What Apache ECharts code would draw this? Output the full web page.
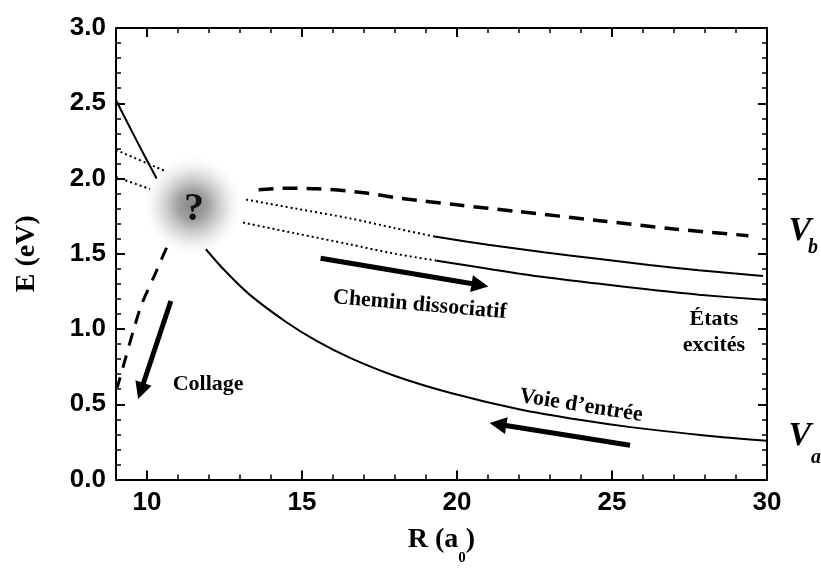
<!DOCTYPE html>
<html><head><meta charset="utf-8">
<script src="https://cdn.jsdelivr.net/npm/echarts@6/dist/echarts.min.js"></script>
<style>html,body{margin:0;padding:0;background:#fff}#c{width:821px;height:571px}</style>
</head><body><div id="c"></div>
<script>
// ---- tick labels ----
const xTickLabels = [10, 15, 20, 25, 30];
const yTickLabels = [0, 0.5, 1.0, 1.5, 2.0, 2.5, 3.0];

// ---- curves [R (a0), E (eV)] ----
const steepSolid = [[9.0, 2.52], [9.67, 2.25], [10.31, 2.0]];
const leftDottedUpper = [[9.0, 2.19], [10.58, 2.05]];
const leftDottedLower = [[9.0, 2.01], [10.1, 1.93]];
const collageDashed = [[10.63, 1.54], [10.25, 1.36], [9.84, 1.17], [9.56, 0.99], [9.3, 0.80], [9.04, 0.61]];
const vbDashed = [[13.6, 1.925], [14.5, 1.935], [15.5, 1.932], [17, 1.905], [18.2, 1.868], [20, 1.825], [22, 1.78], [24.6, 1.72], [27, 1.665], [29.4, 1.62]];
const upperDotted = [[13.2, 1.86], [14.8, 1.80], [16.55, 1.735], [18, 1.67], [19.23, 1.616]];
const upperSolid = [[19.23, 1.616], [21, 1.56], [22.8, 1.51], [24.6, 1.465], [26.2, 1.425], [27.8, 1.39], [29.87, 1.352]];
const lowerDotted = [[13.1, 1.707], [14.8, 1.635], [16.55, 1.562], [18, 1.50], [19.35, 1.454]];
const lowerSolid = [[19.35, 1.454], [21, 1.40], [22.8, 1.345], [24.6, 1.30], [26.2, 1.262], [27.8, 1.228], [30, 1.192]];
const vaSolid = [[11.9, 1.53], [12.5, 1.39], [13.3, 1.23], [14.5, 1.045], [15.5, 0.917], [16.55, 0.808], [18, 0.688], [19.8, 0.575], [22, 0.467], [24, 0.395], [25.6, 0.348], [28, 0.293], [30, 0.257]];

// ---- arrows [start, end] ----
const arrowCollage = [[10.77, 1.186], [9.80, 0.588]];
const arrowChemin = [[15.6, 1.47], [20.74, 1.292]];
const arrowVoie = [[25.58, 0.227], [21.32, 0.367]];

// ---- blob center ----
const blobCenter = [11.48, 1.82];

const SERIF = "'Liberation Serif','Times New Roman',serif";
const SANS = "'Liberation Sans',Arial,sans-serif";
const BLACK = '#000';

function curve(data, type, width) {
  return { type: 'line', data: data, symbol: 'none', showSymbol: false, smooth: 0.3,
    silent: true, animation: false, xAxisIndex: 0, yAxisIndex: 0,
    lineStyle: { color: BLACK, width: width, type: type } };
}
function arrow(coords) {
  return { type: 'lines', coordinateSystem: 'cartesian2d', xAxisIndex: 0, yAxisIndex: 0,
    data: [{ coords: coords }], symbol: ['none', 'triangle'], symbolSize: 17,
    silent: true, animation: false, z: 5,
    lineStyle: { color: BLACK, width: 5, opacity: 1, curveness: 0 } };
}
function textMark(text, pos, o) {
  o = o || {};
  return { type: 'scatter', data: [pos], symbolSize: 1, clip: false, silent: true, animation: false,
    xAxisIndex: 0, yAxisIndex: 0, z: 10,
    itemStyle: { color: 'rgba(0,0,0,0)', opacity: 1 },
    label: { show: true, position: 'inside', formatter: text, rotate: o.rotate || 0, opacity: 1,
      fontSize: o.size || 22, fontFamily: SERIF, fontWeight: 'bold', fontStyle: o.italic ? 'italic' : 'normal',
      color: o.color || BLACK, lineHeight: o.lineHeight || undefined, align: 'center',
      textBorderWidth: 0 } };
}

const axisLineStyle = { color: BLACK, width: 2 };
function xAx(pos, major, showLine) {
  const a = { type: 'value', min: 9, max: 30, position: pos,
    axisLine: { show: showLine, onZero: false, lineStyle: axisLineStyle },
    axisTick: { show: true, inside: true, length: major ? 9 : 5, lineStyle: { color: BLACK, width: major ? 2 : 1.5 } },
    axisLabel: { show: false }, splitLine: { show: false } };
  if (major) a.axisTick.customValues = xTickLabels; else a.interval = 1;
  return a;
}
function yAx(pos, major, showLine) {
  return { type: 'value', min: 0, max: 3, interval: major ? 0.5 : 0.1, position: pos,
    axisLine: { show: showLine, onZero: false, lineStyle: axisLineStyle },
    axisTick: { show: true, inside: true, length: major ? 9 : 5, lineStyle: { color: BLACK, width: major ? 2 : 1.5 } },
    axisLabel: { show: false }, splitLine: { show: false } };
}

const xMain = xAx('bottom', false, true);
xMain.axisLabel = { show: true, customValues: xTickLabels, margin: 10, fontSize: 26, fontWeight: 'bold', fontFamily: SANS, color: BLACK };
xMain.name = '{a|R (a}{s|0}{a|)}';
xMain.nameLocation = 'middle';
xMain.nameGap = 46;
xMain.nameTextStyle = { rich: {
  a: { fontSize: 28, fontWeight: 'bold', fontFamily: SERIF, color: BLACK, lineHeight: 28, verticalAlign: 'top' },
  s: { fontSize: 15, fontWeight: 'bold', fontFamily: SERIF, color: BLACK, lineHeight: 66, verticalAlign: 'middle' } } };

const yMain = yAx('left', false, true);
yMain.axisLabel = { show: true, customValues: yTickLabels, margin: 10, fontSize: 26, fontWeight: 'bold', fontFamily: SANS, color: BLACK,
  formatter: v => Number(v).toFixed(1) };
yMain.name = 'E (eV)';
yMain.nameLocation = 'middle';
yMain.nameGap = 75;
yMain.nameTextStyle = { fontSize: 28, fontWeight: 'bold', fontFamily: SERIF, color: BLACK };

const option = {
  animation: false,
  backgroundColor: '#fff',
  grid: { left: 116, right: 54, top: 28, bottom: 80, containLabel: false },
  xAxis: [xMain, xAx('bottom', true, false), xAx('top', false, true), xAx('top', true, false)],
  yAxis: [yMain, yAx('left', true, false), yAx('right', false, true), yAx('right', true, false)],
  series: [
    { type: 'scatter', data: [blobCenter], symbolSize: 104, silent: true, z: 1, xAxisIndex: 0, yAxisIndex: 0,
      itemStyle: { opacity: 1, color: { type: 'radial', x: 0.5, y: 0.5, r: 0.5, colorStops: [
        { offset: 0, color: 'rgba(130,130,130,1)' },
        { offset: 0.3, color: 'rgba(158,158,158,0.95)' },
        { offset: 0.6, color: 'rgba(205,205,205,0.7)' },
        { offset: 0.85, color: 'rgba(240,240,240,0.35)' },
        { offset: 1, color: 'rgba(255,255,255,0)' }] } } },
    curve(steepSolid, 'solid', 2),
    curve(leftDottedUpper, [2, 3], 2),
    curve(leftDottedLower, [2, 3], 2),
    curve(collageDashed, [13, 10], 3),
    curve(vbDashed, [15, 9], 3.5),
    curve(upperDotted, [2, 3], 2),
    curve(upperSolid, 'solid', 2),
    curve(lowerDotted, [2, 3], 2),
    curve(lowerSolid, 'solid', 2),
    curve(vaSolid, 'solid', 2),
    arrow(arrowCollage),
    arrow(arrowChemin),
    arrow(arrowVoie),
    textMark('?', [11.52, 1.792], { size: 40, color: '#111' }),
    textMark('Collage', [11.97, 0.635]),
    textMark('Chemin dissociatif', [18.8, 1.16], { rotate: -5 }),
    textMark('États\nexcités', [28.29, 0.98], { lineHeight: 26 }),
    textMark("Voie d’entrée", [24.0, 0.49], { rotate: -9 }),
    textMark('V', [31.06, 1.649], { size: 34, italic: true }),
    textMark('b', [31.48, 1.542], { size: 20, italic: true }),
    textMark('V', [31.06, 0.288], { size: 34, italic: true }),
    textMark('a', [31.58, 0.143], { size: 20, italic: true })
  ]
};
const chart = echarts.init(document.getElementById('c'), null, { renderer: 'canvas' });
chart.setOption(option);
</script></body></html>
